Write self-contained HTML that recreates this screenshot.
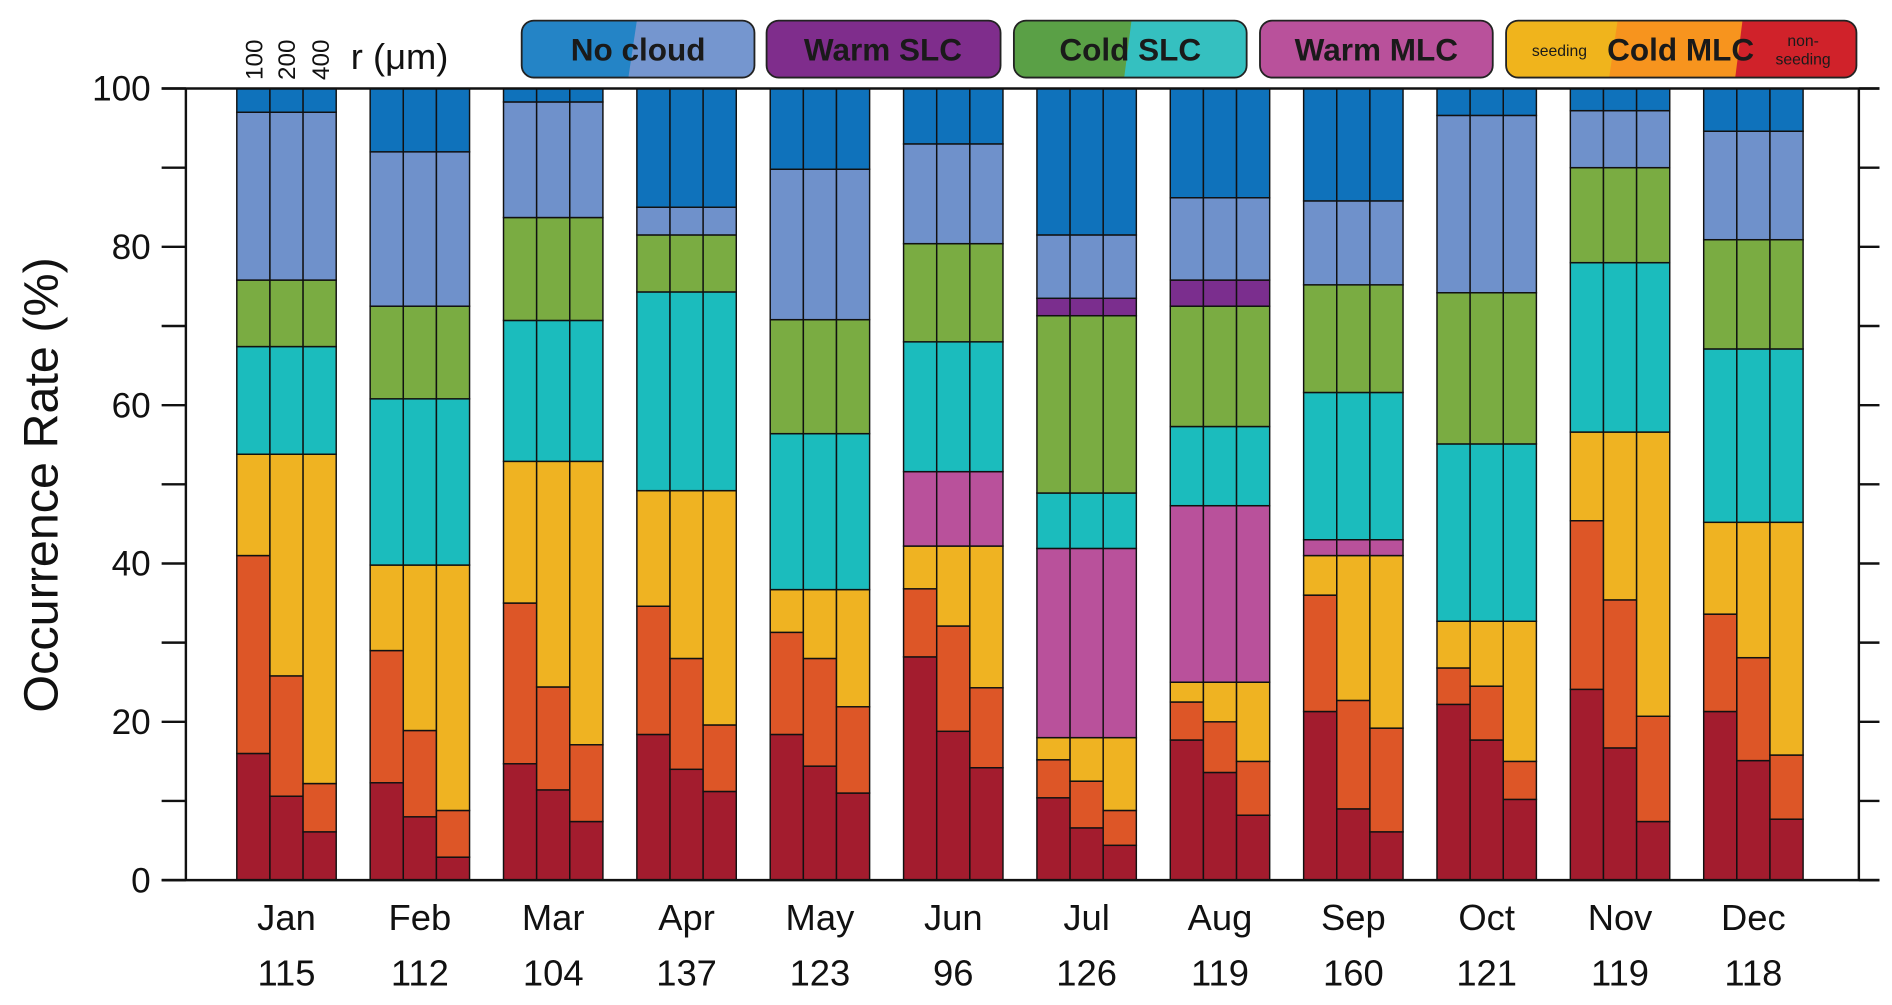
<!DOCTYPE html>
<html><head><meta charset="utf-8"><style>
html,body{margin:0;padding:0;background:#fff}
svg{display:block;font-family:"Liberation Sans",Arial,sans-serif}
</style></head><body>
<svg id="chart" width="1892" height="1005" viewBox="0 0 1560 829" xmlns="http://www.w3.org/2000/svg">
<g id="legend">
 <defs>
  <clipPath id="c1"><rect x="430" y="17" width="192" height="47" rx="10"/></clipPath>
  <clipPath id="c3"><rect x="836" y="17" width="192" height="47" rx="10"/></clipPath>
  <clipPath id="c5"><rect x="1242" y="17" width="289" height="47" rx="10"/></clipPath>
 </defs>
 <g>
  <g clip-path="url(#c1)"><rect x="430" y="17" width="192" height="47" fill="#7596cf"/><polygon points="430,17 525,17 518,64 430,64" fill="#2484c6"/></g>
  <rect x="430" y="17" width="192" height="47" rx="10" fill="none" stroke="#222" stroke-width="1.5"/>
  <text x="526" y="50" text-anchor="middle" font-size="26" font-weight="bold" fill="#1a1a1a">No cloud</text>
 </g>
 <g>
  <rect x="632" y="17" width="193" height="47" rx="10" fill="#7f2d8c" stroke="#222" stroke-width="1.5"/>
  <text x="728" y="50" text-anchor="middle" font-size="26" font-weight="bold" fill="#1a1a1a">Warm SLC</text>
 </g>
 <g>
  <g clip-path="url(#c3)"><rect x="836" y="17" width="192" height="47" fill="#35c0c0"/><polygon points="836,17 933,17 927,64 836,64" fill="#5aa046"/></g>
  <rect x="836" y="17" width="192" height="47" rx="10" fill="none" stroke="#222" stroke-width="1.5"/>
  <text x="932" y="50" text-anchor="middle" font-size="26" font-weight="bold" fill="#1a1a1a">Cold SLC</text>
 </g>
 <g>
  <rect x="1039" y="17" width="192" height="47" rx="10" fill="#b9519b" stroke="#222" stroke-width="1.5"/>
  <text x="1135" y="50" text-anchor="middle" font-size="26" font-weight="bold" fill="#1a1a1a">Warm MLC</text>
 </g>
 <g>
  <g clip-path="url(#c5)"><rect x="1242" y="17" width="289" height="47" fill="#d0222a"/><polygon points="1242,17 1437,17 1431,64 1242,64" fill="#f7941e"/><polygon points="1242,17 1334,17 1327,64 1242,64" fill="#f0b41c"/></g>
  <rect x="1242" y="17" width="289" height="47" rx="10" fill="none" stroke="#222" stroke-width="1.5"/>
  <text x="1286" y="46" text-anchor="middle" font-size="13" fill="#1a1a1a">seeding</text>
  <text x="1386" y="50" text-anchor="middle" font-size="26" font-weight="bold" fill="#1a1a1a">Cold MLC</text>
  <text x="1487" y="38" text-anchor="middle" font-size="13" fill="#1a1a1a">non-</text>
  <text x="1487" y="53" text-anchor="middle" font-size="13" fill="#1a1a1a">seeding</text>
 </g>
</g>
<g id="bars"></g>
<g id="axes"></g>
<text transform="translate(47,400) rotate(-90)" text-anchor="middle" font-size="40" fill="#111">Occurrence Rate (%)</text>
<g font-size="20" fill="#111">
 <text transform="translate(216,66) rotate(-90)">100</text>
 <text transform="translate(243,66) rotate(-90)">200</text>
 <text transform="translate(271,66) rotate(-90)">400</text>
 <text x="289" y="57" font-size="30">r (μm)</text>
</g>
</svg>
<script>
const months = ["Jan","Feb","Mar","Apr","May","Jun","Jul","Aug","Sep","Oct","Nov","Dec"];
const counts = [115,112,104,137,123,96,126,119,160,121,119,118];
const yTicks = [0,20,40,60,80,100];
// cumulative tops (%) per layer; per-radius layers have 3 values per month
const nonSeedTop = [[16,10.6,6.1],[12.3,8,2.9],[14.7,11.4,7.4],[18.4,14,11.2],[18.4,14.4,11],[28.2,18.8,14.2],[10.4,6.6,4.4],[17.7,13.6,8.2],[21.3,9,6.1],[22.2,17.7,10.2],[24.1,16.7,7.4],[21.3,15.1,7.7]];
const midTop = [[41,25.8,12.2],[29,18.9,8.8],[35,24.4,17.1],[34.6,28,19.6],[31.3,28,21.9],[36.8,32.1,24.3],[15.2,12.5,8.8],[22.5,20,15],[36,22.7,19.2],[26.8,24.5,15],[45.4,35.4,20.7],[33.6,28.1,15.8]];
const seedingTop = [53.8,39.8,52.9,49.2,36.7,42.2,18,25,41,32.7,56.6,45.2];
const warmMlcTop = [53.8,39.8,52.9,49.2,36.7,51.6,41.9,47.3,43,32.7,56.6,45.2];
const coldSlcIceTop = [67.4,60.8,70.7,74.3,56.4,68,48.9,57.3,61.6,55.1,78,67.1];
const coldSlcLiqTop = [75.8,72.5,83.7,81.5,70.8,80.4,71.3,72.5,75.2,74.2,90,80.9];
const warmSlcTop = [75.8,72.5,83.7,81.5,70.8,80.4,73.5,75.8,75.2,74.2,90,80.9];
const noCloudLightTop = [97,92,98.3,85,89.8,93,81.5,86.2,85.8,96.6,97.2,94.6];

const NS="http://www.w3.org/2000/svg";
const X0=153,X1=1533,Y0=726,Y1=73;
function y(v){return Y0-(Y0-Y1)*v/100;}
function gx(i){return 195+i*110;}
const bw=82/3;
const bars=document.getElementById('bars');
const axes=document.getElementById('axes');
function mk(tag,attrs,parent){const e=document.createElementNS(NS,tag);for(const k in attrs)e.setAttribute(k,attrs[k]);parent.appendChild(e);return e;}
const layerColors=["#a31c2e","#dd5627","#efb322","#b9519b","#1bbcbd","#7aac42","#7b2e8e","#6f91cb","#0f72bb"];
const layerNames=["cold-mlc-nonseeding","cold-mlc-mid","cold-mlc-seeding","warm-mlc","cold-slc-ice","cold-slc-liquid","warm-slc","no-cloud-light","no-cloud-dark"];
months.forEach((m,i)=>{
 for(let j=0;j<3;j++){
  const tops=[nonSeedTop[i][j],midTop[i][j],seedingTop[i],warmMlcTop[i],coldSlcIceTop[i],coldSlcLiqTop[i],warmSlcTop[i],noCloudLightTop[i],100];
  let prev=0;
  tops.forEach((t,k)=>{
   if(t-prev>0.01){
    const r=mk('rect',{x:gx(i)+j*bw,y:y(t),width:bw,height:y(prev)-y(t),fill:layerColors[k],stroke:"#111","stroke-width":1.2},bars);
    
    
   }
   prev=Math.max(prev,t);
  });
 }
 const t1=mk('text',{x:gx(i)+41,y:767,"text-anchor":"middle","font-size":30,fill:"#111"},axes);
 t1.textContent=m;
 
 
 const t2=mk('text',{x:gx(i)+41,y:813,"text-anchor":"middle","font-size":30,fill:"#111"},axes);
 t2.textContent=counts[i];
 
 
});
const fr=mk('path',{d:`M133 ${Y1} H1550 M${X0} ${Y1} V${Y0} M${X1} ${Y1} V${Y0} M133 ${Y0} H1550`,stroke:"#111","stroke-width":2,fill:"none"},axes);


for(let v=0;v<=100;v+=10){
 const tk=mk('path',{d:`M133 ${y(v)} H${X0} M${X1} ${y(v)} H1550`,stroke:"#111","stroke-width":2},axes);
 
 
}
yTicks.forEach(v=>{
 const t=mk('text',{x:124,y:y(v)+10,"text-anchor":"end","font-size":29,fill:"#111"},axes);
 t.textContent=v;
 
 
});
</script>
</body></html>
